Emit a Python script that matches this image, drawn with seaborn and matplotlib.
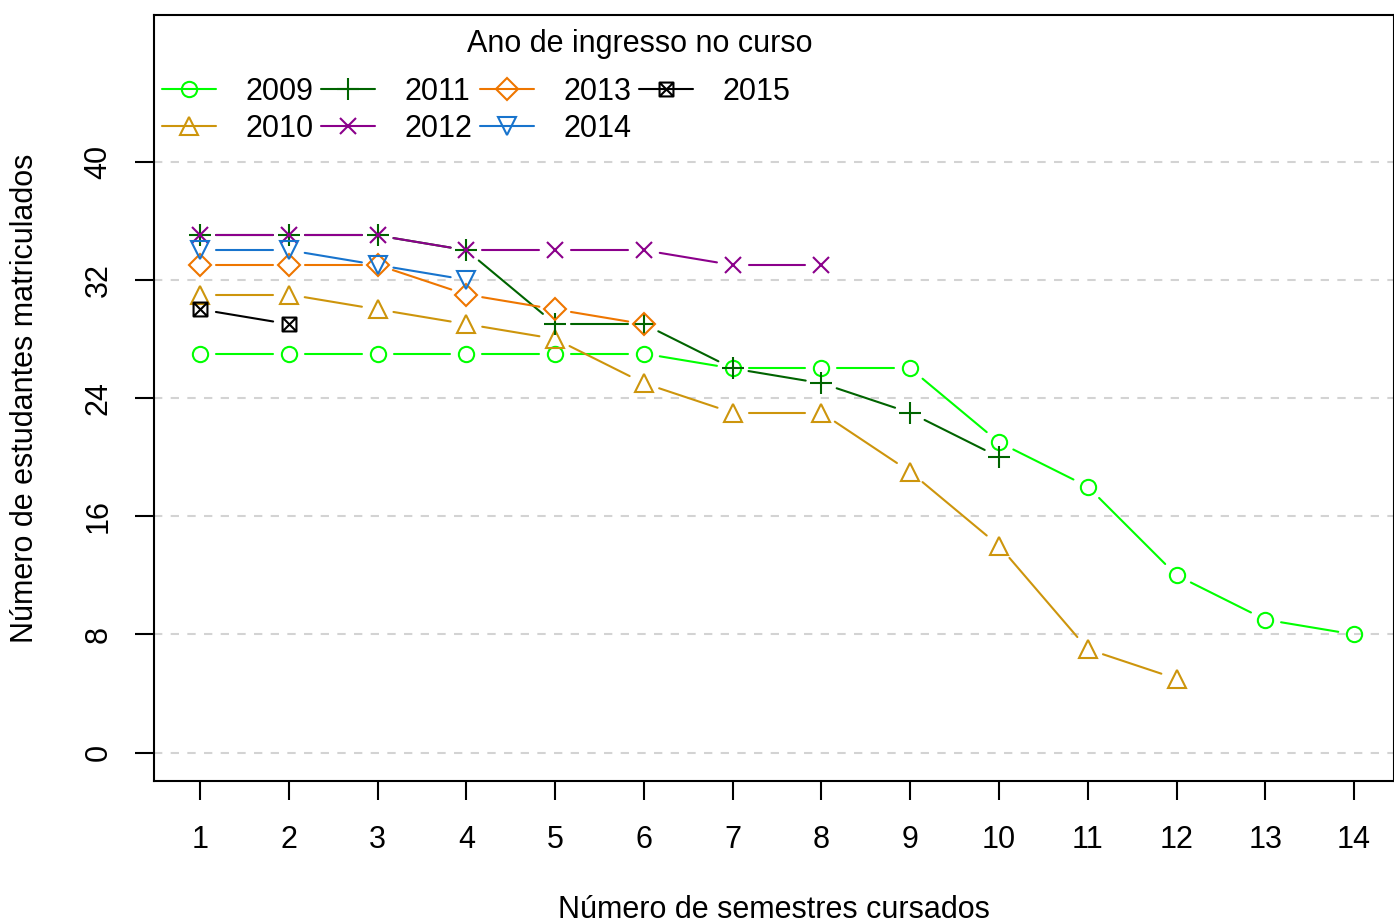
import numpy as np
import matplotlib
matplotlib.use("Agg")
import matplotlib.pyplot as plt
from matplotlib.path import Path
import seaborn as sns

# data
anos = ["2009", "2010", "2011", "2012", "2013", "2014", "2015"]
v2009 = [27, 27, 27, 27, 27, 27, 26, 26, 26, 21, 18, 12, 9, 8]
v2010 = [31, 31, 30, 29, 28, 25, 23, 23, 19, 14, 7, 5]
v2011 = [35, 35, 35, 34, 29, 29, 26, 25, 23, 20]
v2012 = [35, 35, 35, 34, 34, 34, 33, 33]
v2013 = [33, 33, 33, 31, 30, 29]
v2014 = [34, 34, 33, 32]
v2015 = [30, 29]
valores = [v2009, v2010, v2011, v2012, v2013, v2014, v2015]
semestres = list(range(1, 15))
yticks = [0, 8, 16, 24, 32, 40]

cores = ["#00FF00", "#CD950C", "#006400", "#8B008B", "#EE7600", "#1874CD", "#000000"]

# square with an x inside (R pch 7)
sq_x = Path(
    [(-1, -1), (1, -1), (1, 1), (-1, 1), (-1, -1), (-1, -1), (1, 1), (-1, 1), (1, -1)],
    [Path.MOVETO, Path.LINETO, Path.LINETO, Path.LINETO, Path.CLOSEPOLY,
     Path.MOVETO, Path.LINETO, Path.MOVETO, Path.LINETO],
)
marcadores = ["o", "^", "+", "x", "D", "v", sq_x]
tamanhos = [11, 13, 16, 12, 11, 13, 10]

sns.set_theme(style="white")
plt.rcParams['font.family'] = ['Liberation Sans', 'DejaVu Sans']
plt.rcParams['font.size'] = 22
plt.rcParams['text.color'] = 'black'
plt.rcParams['xtick.color'] = 'black'
plt.rcParams['ytick.color'] = 'black'

fig = plt.figure(figsize=(13.94, 9.24), dpi=100)
ax = fig.add_axes([154 / 1394, 143 / 924, 1240 / 1394, 766 / 924])
ax.set_xlim(0.48, 14.45)
ax.set_ylim(-1.92, 49.92)

for yv in yticks:
    ax.axhline(yv, color="#D3D3D3", lw=1.5, ls=(0, (4, 4)), zorder=1)

gap = 16  # pixels of empty space around each point (R type = "b")
for ano, vals, cor, mk, ms in zip(anos, valores, cores, marcadores, tamanhos):
    x = np.array(semestres[:len(vals)], dtype=float)
    y = np.array(vals, dtype=float)
    pts = ax.transData.transform(np.column_stack([x, y]))
    for i in range(len(pts) - 1):
        p0, p1 = pts[i], pts[i + 1]
        d = np.hypot(*(p1 - p0))
        if d <= 2 * gap:
            continue
        u = (p1 - p0) / d
        seg = ax.transData.inverted().transform([p0 + u * gap, p1 - u * gap])
        ax.plot(seg[:, 0], seg[:, 1], color=cor, lw=1.5, zorder=2)
    sns.lineplot(x=x, y=y, ax=ax, color=cor, linestyle="", marker=mk, markersize=ms,
                 markerfacecolor="none", markeredgecolor=cor, markeredgewidth=1.5,
                 zorder=3)

# legend handles in R style (line with marker in the middle)
handles = []
for ano, cor, mk, ms in zip(anos, cores, marcadores, tamanhos):
    h, = ax.plot([], [], color=cor, lw=1.5, marker=mk, markersize=ms,
                 markerfacecolor="none", markeredgecolor=cor, markeredgewidth=1.5)
    handles.append(h)
ax.legend(handles, anos, loc="upper left", bbox_to_anchor=(0.0065, 0.9195), ncol=4,
          frameon=False, fontsize=22, handlelength=1.77, handletextpad=0.95,
          columnspacing=0.26, labelspacing=0.245, borderpad=0, borderaxespad=0)
ax.text(0.392, 0.9625, "Ano de ingresso no curso", transform=ax.transAxes,
        ha="center", va="center", fontsize=22)

ax.set_xticks(semestres)
ax.set_yticks(yticks)
ax.set_yticklabels([str(t) for t in yticks], rotation=90, va="center")
ax.tick_params(axis="both", direction="out", length=14, width=1.5, color="black",
               labelsize=22, labelcolor="black", left=True, bottom=True)
ax.tick_params(axis="x", pad=18)
ax.tick_params(axis="y", pad=15)
for s in ax.spines.values():
    s.set_color("black")
    s.set_linewidth(1.5)

fig.text(774 / 1394, 1 - 910 / 924, "Número de semestres cursados",
         ha="center", va="center", fontsize=22)
fig.text(25 / 1394, 1 - 398 / 924, "Número de estudantes matriculados",
         ha="center", va="center", rotation=90, fontsize=22)

fig.savefig("out.png", dpi=100)
